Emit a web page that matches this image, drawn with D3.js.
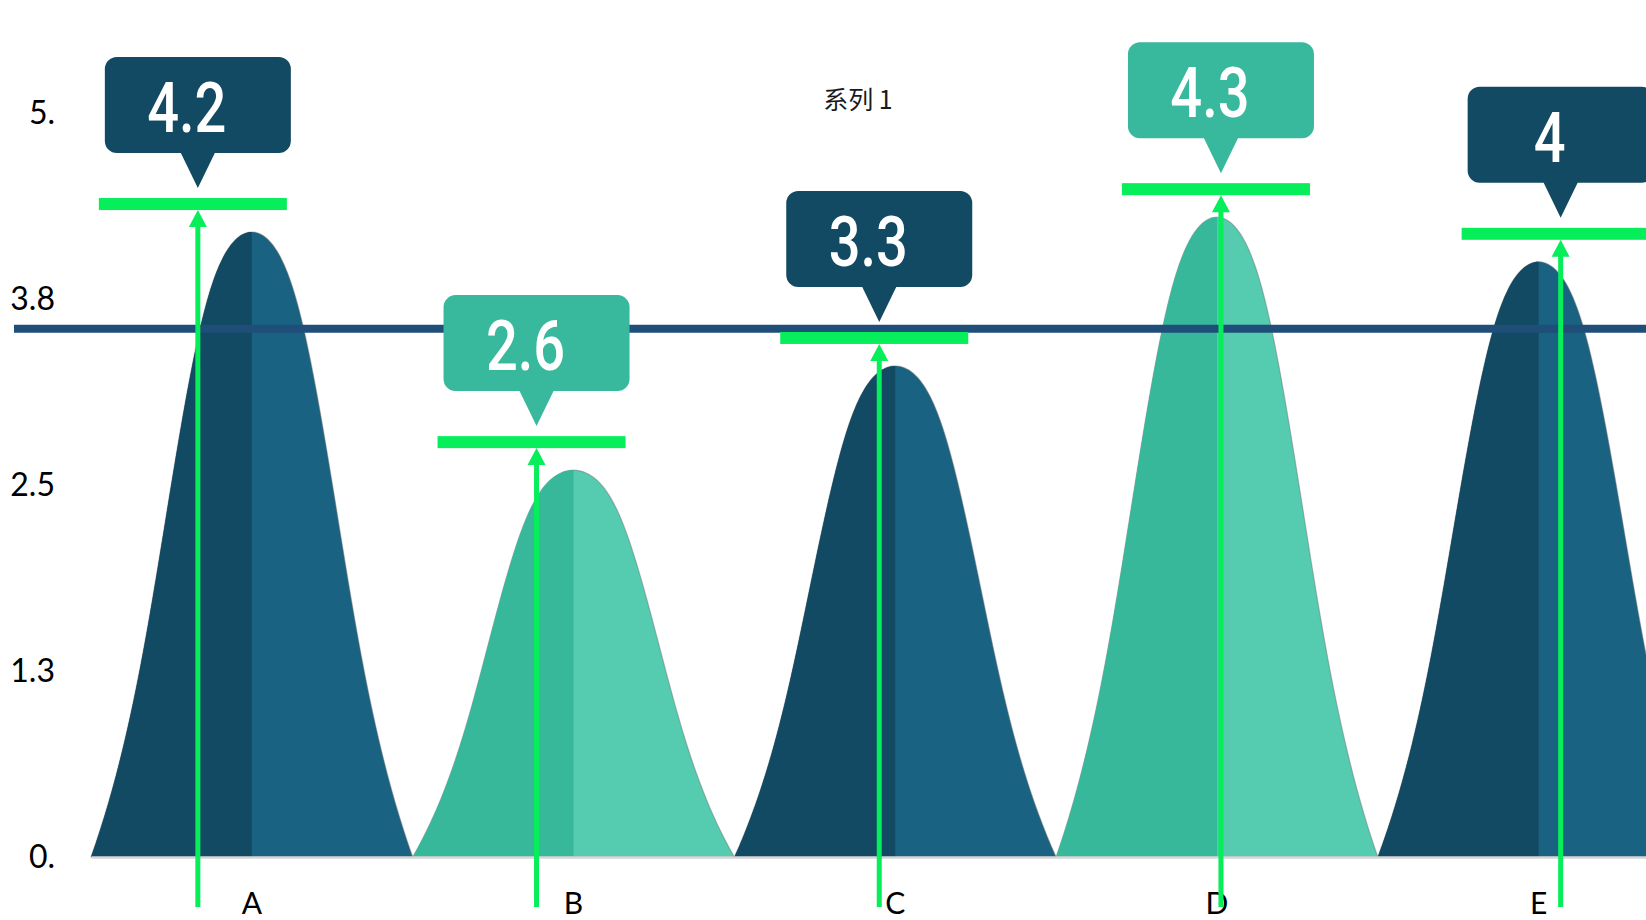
<!DOCTYPE html>
<html>
<head>
<meta charset="utf-8">
<script src="https://cdn.jsdelivr.net/npm/d3@7"></script>
<style>
  html, body { margin: 0; padding: 0; background: #ffffff; overflow: hidden; }
  svg { display: block; }
</style>
</head>
<body>
<svg id="chart" width="1646" height="920"></svg>
<script>
// ---- data ----
const seriesName = "系列 1";
const categories = ["A", "B", "C", "D", "E"];
const values = [4.2, 2.6, 3.3, 4.3, 4];
const valueLabels = ["4.2", "2.6", "3.3", "4.3", "4"];
const tickValues = [0, 1.25, 2.5, 3.75, 5];
const tickLabels = ["0.", "1.3", "2.5", "3.8", "5."];
const referenceLevel = 3.55;

// ---- layout / style ----
const W = 1646, H = 920;
const plot = { left: 91, right: 1699.5, top: 113, bottom: 857 };
const themes = [
  { left: "#134A63", right: "#1A6282", callout: "#134A63" },
  { left: "#38B89B", right: "#55CBB0", callout: "#38B89C" }
];
const pinShift = [-54, -37, -16, 4, 22];   // horizontal offset of each callout pin from its peak centre
const markerGap = 28;                       // marker bar sits this far above the peak top
const green = "#06EE5A";

// mountain silhouette: half-width (fraction of half the band) at height fraction h
function halfWidth(h) {
  const r = Math.max(0, 1 - h);
  return Math.sqrt(r) * (0.78 + 0.22 * Math.pow(r, 4) + 0.15 * Math.pow(h, 8));
}
// sample the outline more densely near the rounded top
const steps = 90;
const side = d3.range(steps + 1).map(k => {
  const t = k / steps;
  const h = 1 - Math.pow(1 - t, 2);
  return [-halfWidth(h), h];
});
side[steps] = [0, 1];
const profile = side.concat(side.slice(0, -1).reverse().map(([w, h]) => [-w, h]));

const svg = d3.select("#chart");
const defs = svg.append("defs");

const x = d3.scaleBand().domain(categories).range([plot.left, plot.right]).padding(0);
const y = d3.scaleLinear().domain([0, 5]).range([plot.bottom, plot.top]);

const rows = categories.map((c, i) => ({
  c, i, v: values[i], label: valueLabels[i], theme: themes[i % 2],
  cx: x(c) + x.bandwidth() / 2
}));

// ---- mountains ----
const outline = d3.line();
function mountainPath(d) {
  const half = x.bandwidth() / 2;
  const top = y(d.v), base = y(0);
  return outline(profile.map(([w, h]) => [d.cx + w * half, base + h * (top - base)])) + "Z";
}

rows.forEach(d => {
  defs.append("clipPath").attr("id", "half-" + d.c)
    .append("rect")
    .attr("x", x(d.c) - 2).attr("y", 0)
    .attr("width", x.bandwidth() / 2 + 2).attr("height", H);
});

const peaks = svg.append("g").attr("class", "peaks");
const peak = peaks.selectAll("g").data(rows).join("g");
peak.append("path")
  .attr("d", mountainPath)
  .attr("fill", d => d.theme.right)
  .attr("stroke", "rgba(110,110,110,0.45)")
  .attr("stroke-width", 1.2);
peak.append("path")
  .attr("d", mountainPath)
  .attr("fill", d => d.theme.left)
  .attr("clip-path", d => `url(#half-${d.c})`);

// ---- axes ----
const xAxis = svg.append("g")
  .attr("transform", `translate(0,${y(0)})`)
  .call(d3.axisBottom(x).tickSize(0).tickSizeOuter(0).tickPadding(36));
xAxis.select(".domain").attr("stroke", "#d6d6d6").attr("stroke-width", 2.5);
xAxis.selectAll("text")
  .attr("font-family", "Lato, 'Noto Sans', sans-serif")
  .attr("font-size", 30).attr("fill", "#000");

const yAxis = svg.append("g")
  .attr("transform", "translate(55,0)")
  .call(d3.axisLeft(y).tickValues(tickValues).tickFormat((d, i) => tickLabels[i]).tickSize(0).tickPadding(0));
yAxis.select(".domain").remove();
yAxis.selectAll("text")
  .attr("font-family", "Lato, 'Noto Sans', sans-serif")
  .attr("font-size", 32).attr("fill", "#000");

// ---- reference line ----
svg.append("line")
  .attr("x1", 14).attr("x2", W)
  .attr("y1", y(referenceLevel)).attr("y2", y(referenceLevel))
  .attr("stroke", "#1F4E79").attr("stroke-width", 8);

// ---- markers, arrows and callouts ----
const ann = svg.append("g").attr("class", "annotations");
rows.forEach(d => {
  const px = d.cx + pinShift[d.i];
  const my = y(d.v) - markerGap;          // marker bar centre
  const barTop = my - 6, barBottom = my + 6;

  // arrow rising from under the axis to the marker
  const headLen = 17, headHalf = 9;
  ann.append("line")
    .attr("x1", px).attr("x2", px)
    .attr("y1", y(0) + 50).attr("y2", barBottom + headLen - 1)
    .attr("stroke", green).attr("stroke-width", 5);
  ann.append("path")
    .attr("d", `M${px},${barBottom}L${px + headHalf},${barBottom + headLen}L${px - headHalf},${barBottom + headLen}Z`)
    .attr("fill", green);

  // marker bar
  ann.append("rect")
    .attr("x", px - 5 - 94).attr("y", barTop)
    .attr("width", 188).attr("height", 12)
    .attr("fill", green);

  // callout bubble with pointer
  const tipY = barTop - 10, boxH = 96, boxW = 186, r = 12, ptrH = 35, ptrHalf = 17;
  const bTop = tipY - ptrH - boxH, bBot = tipY - ptrH;
  const bL = px - boxW / 2, bR = px + boxW / 2;
  const p = d3.path();
  p.moveTo(bL + r, bTop);
  p.lineTo(bR - r, bTop);
  p.arcTo(bR, bTop, bR, bTop + r, r);
  p.lineTo(bR, bBot - r);
  p.arcTo(bR, bBot, bR - r, bBot, r);
  p.lineTo(px + ptrHalf, bBot);
  p.lineTo(px, tipY);
  p.lineTo(px - ptrHalf, bBot);
  p.lineTo(bL + r, bBot);
  p.arcTo(bL, bBot, bL, bBot - r, r);
  p.lineTo(bL, bTop + r);
  p.arcTo(bL, bTop, bL + r, bTop, r);
  p.closePath();
  ann.append("path").attr("d", p.toString()).attr("fill", d.theme.callout);

  ann.append("text")
    .attr("transform", `translate(${px - 11},${bTop + 75}) scale(0.8,1)`)
    .attr("text-anchor", "middle")
    .attr("font-family", "Roboto, 'Noto Sans', sans-serif")
    .attr("font-weight", 500)
    .attr("font-size", 70)
    .attr("fill", "#ffffff")
    .text(d.label);
});

// ---- series title ----
svg.append("text")
  .attr("x", 858).attr("y", 109)
  .attr("text-anchor", "middle")
  .attr("font-family", "'Noto Sans CJK SC', 'Noto Sans', sans-serif")
  .attr("font-size", 25)
  .attr("fill", "#1a1a1a")
  .text(seriesName);
</script>
</body>
</html>
